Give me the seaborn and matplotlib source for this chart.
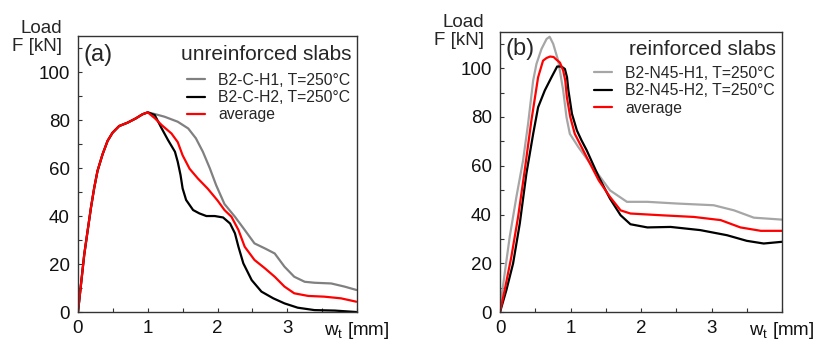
import numpy as np
import pandas as pd
import matplotlib
matplotlib.use("Agg")
import matplotlib.pyplot as plt
from matplotlib.ticker import MultipleLocator
import seaborn as sns

sns.set_theme(style="white")
plt.rcParams["font.family"] = ["Liberation Sans", "DejaVu Sans"]

# ── panel (a): unreinforced slabs (all three share the rising branch) ──
a_rise_x = [0, 0.043, 0.09, 0.138, 0.186, 0.233, 0.28, 0.352, 0.424, 0.495,
            0.59, 0.71, 0.83, 0.924, 1.0]
a_rise_y = [0, 11.5, 24, 33.8, 43.5, 51.8, 58.8, 65.7, 71.3, 74.7,
            77.5, 78.9, 80.7, 82.4, 83.2]

a_h1_x = a_rise_x + [1.1, 1.24, 1.43, 1.58, 1.69, 1.79, 1.89, 1.98, 2.1, 2.25,
                     2.39, 2.53, 2.68, 2.82, 2.96, 3.1, 3.25, 3.39, 3.63, 3.82, 3.99]
a_h1_y = a_rise_y + [82.5, 81.4, 79.3, 76.5, 72.4, 66.8, 59.9, 52.9, 45, 39.7,
                     34.2, 28.6, 26.5, 24.4, 18.9, 14.7, 12.6, 12.2, 11.9, 10.6, 9.2]

a_h2_x = a_rise_x + [1.1, 1.2, 1.29, 1.39, 1.43, 1.47, 1.5, 1.55, 1.65, 1.74,
                     1.84, 1.96, 2.08, 2.18, 2.25, 2.3, 2.37, 2.49, 2.63, 2.8,
                     2.96, 3.15, 3.39, 3.68, 3.99]
a_h2_y = a_rise_y + [82.1, 76.5, 71.7, 66.8, 62.6, 57.1, 51.5, 46.7, 42.5, 41.1,
                     40.0, 40.0, 39.4, 36.9, 32.8, 27.2, 20.3, 13.3, 8.5, 5.7,
                     3.6, 1.8, 0.8, 0.6, 0.0]

a_avg_x = a_rise_x + [1.1, 1.2, 1.34, 1.43, 1.5, 1.6, 1.72, 1.86, 2.0, 2.1, 2.2,
                      2.3, 2.39, 2.53, 2.68, 2.82, 2.96, 3.1, 3.3, 3.53, 3.77, 3.99]
a_avg_y = a_rise_y + [80.8, 77.9, 74.4, 70.8, 65.3, 59.7, 55.6, 51.4, 46.5, 42.5, 39.7,
                      34.2, 27.2, 21.7, 18.2, 14.7, 10.6, 7.8, 6.7, 6.4, 5.7, 4.3]

# ── panel (b): reinforced slabs ──
b_h1_x = [0, 0.028, 0.066, 0.137, 0.232, 0.327, 0.398, 0.47, 0.517, 0.588,
          0.66, 0.704, 0.754, 0.825, 0.896, 0.943, 0.99, 1.11, 1.23, 1.42,
          1.56, 1.8, 2.09, 2.51, 3.03, 3.32, 3.6, 4.0]
b_h1_y = [0, 7.6, 15.8, 30.8, 47.2, 62.2, 77.2, 95, 101.8, 107.9,
          112, 112.9, 110, 103.1, 90.9, 79.9, 73.1, 67.7, 62.9, 55.4,
          49.9, 45.2, 45.2, 44.5, 43.8, 41.7, 38.7, 37.9]

b_h2_x = [0, 0.09, 0.185, 0.28, 0.374, 0.47, 0.54, 0.635, 0.73, 0.81,
          0.87, 0.92, 0.95, 0.97, 1.02, 1.09, 1.156, 1.23, 1.4, 1.56,
          1.71, 1.85, 2.09, 2.42, 2.84, 3.22, 3.5, 3.74, 4.0]
b_h2_y = [0, 9, 19.9, 36.3, 56.8, 73.1, 84, 90.9, 96.3, 100.7,
          100.7, 99.7, 96.3, 90.9, 81.3, 74.5, 70.4, 66.3, 55.4, 46.5,
          39.7, 36, 34.7, 34.9, 33.6, 31.5, 29.2, 28.1, 28.8]

b_avg_x = [0, 0.066, 0.16, 0.256, 0.35, 0.445, 0.54, 0.61, 0.66, 0.71,
           0.76, 0.8, 0.85, 0.896, 0.925, 0.948, 0.996, 1.06, 1.156, 1.24,
           1.4, 1.56, 1.71, 1.85, 2.28, 2.75, 3.13, 3.41, 3.7, 4.0]
b_avg_y = [0, 9, 22.6, 39, 58.1, 78.6, 96.3, 103.1, 104.2, 104.8,
           104.6, 103.5, 102.3, 99, 95, 88.1, 80, 73.1, 67.7, 62.9,
           54, 47.2, 41.7, 40.4, 39.7, 39, 37.7, 34.7, 33.3, 33.3]

x_ticks = [0, 1, 2, 3, 4]
x_tick_labels = ["0", "1", "2", "3", "w$_\\mathregular{t}$ [mm]"]
y_ticks = [0, 20, 40, 60, 80, 100]


def draw_panel(ax, curves, tag, title, head_y, leg_y, ylab_y):
    for xs, ys, color, label in curves:
        sns.lineplot(x=xs, y=ys, ax=ax, color=color, linewidth=1.6,
                     label=label, estimator=None, sort=False)
    ax.set_xlim(0, 4)
    ax.set_ylim(0, 115)
    ax.set_xticks(x_ticks)
    ax.set_xticklabels(x_tick_labels)
    ax.set_yticks(y_ticks)
    ax.xaxis.set_minor_locator(MultipleLocator(0.5))
    ax.yaxis.set_minor_locator(MultipleLocator(10))
    ax.tick_params(which="both", direction="in", length=3, width=0.8,
                   color="#333333", labelsize=13.5, labelcolor="#111111",
                   bottom=True, left=True)
    ax.tick_params(axis="x", pad=6)
    ax.tick_params(axis="y", pad=6)
    for s in ax.spines.values():
        s.set_color("#333333")
        s.set_linewidth(1.0)
    ax.set_xlabel("")
    ax.set_ylabel("")
    ax.text(0.018, head_y, tag, transform=ax.transAxes, fontsize=17,
            ha="left", va="center")
    ax.text(0.98, head_y, title, transform=ax.transAxes, fontsize=15,
            ha="right", va="center")
    ax.text(-0.057, ylab_y, "Load\nF [kN]", transform=ax.transAxes,
            fontsize=13.5, ha="right", va="center", linespacing=1.1)
    ax.legend(loc="upper right", bbox_to_anchor=(0.975, leg_y), frameon=False,
              fontsize=11.3, handlelength=1.15, handletextpad=0.85,
              labelspacing=0.15, borderpad=0, borderaxespad=0)


fig = plt.figure(figsize=(8.14, 3.39), dpi=100)
ax_a = fig.add_axes([0.0958, 0.0796, 0.3428, 0.814])
ax_b = fig.add_axes([0.6143, 0.0796, 0.3464, 0.827])

draw_panel(ax_a, [
    (a_h1_x, a_h1_y, "#808080", "B2-C-H1, T=250°C"),
    (a_h2_x, a_h2_y, "#000000", "B2-C-H2, T=250°C"),
    (a_avg_x, a_avg_y, "#ff0000", "average"),
], "(a)", "unreinforced slabs", 0.933, 0.867, 0.995)

draw_panel(ax_b, [
    (b_h1_x, b_h1_y, "#a6a6a6", "B2-N45-H1, T=250°C"),
    (b_h2_x, b_h2_y, "#000000", "B2-N45-H2, T=250°C"),
    (b_avg_x, b_avg_y, "#ff0000", "average"),
], "(b)", "reinforced slabs", 0.937, 0.878, 1.0)

fig.savefig("out.png", dpi=100)
